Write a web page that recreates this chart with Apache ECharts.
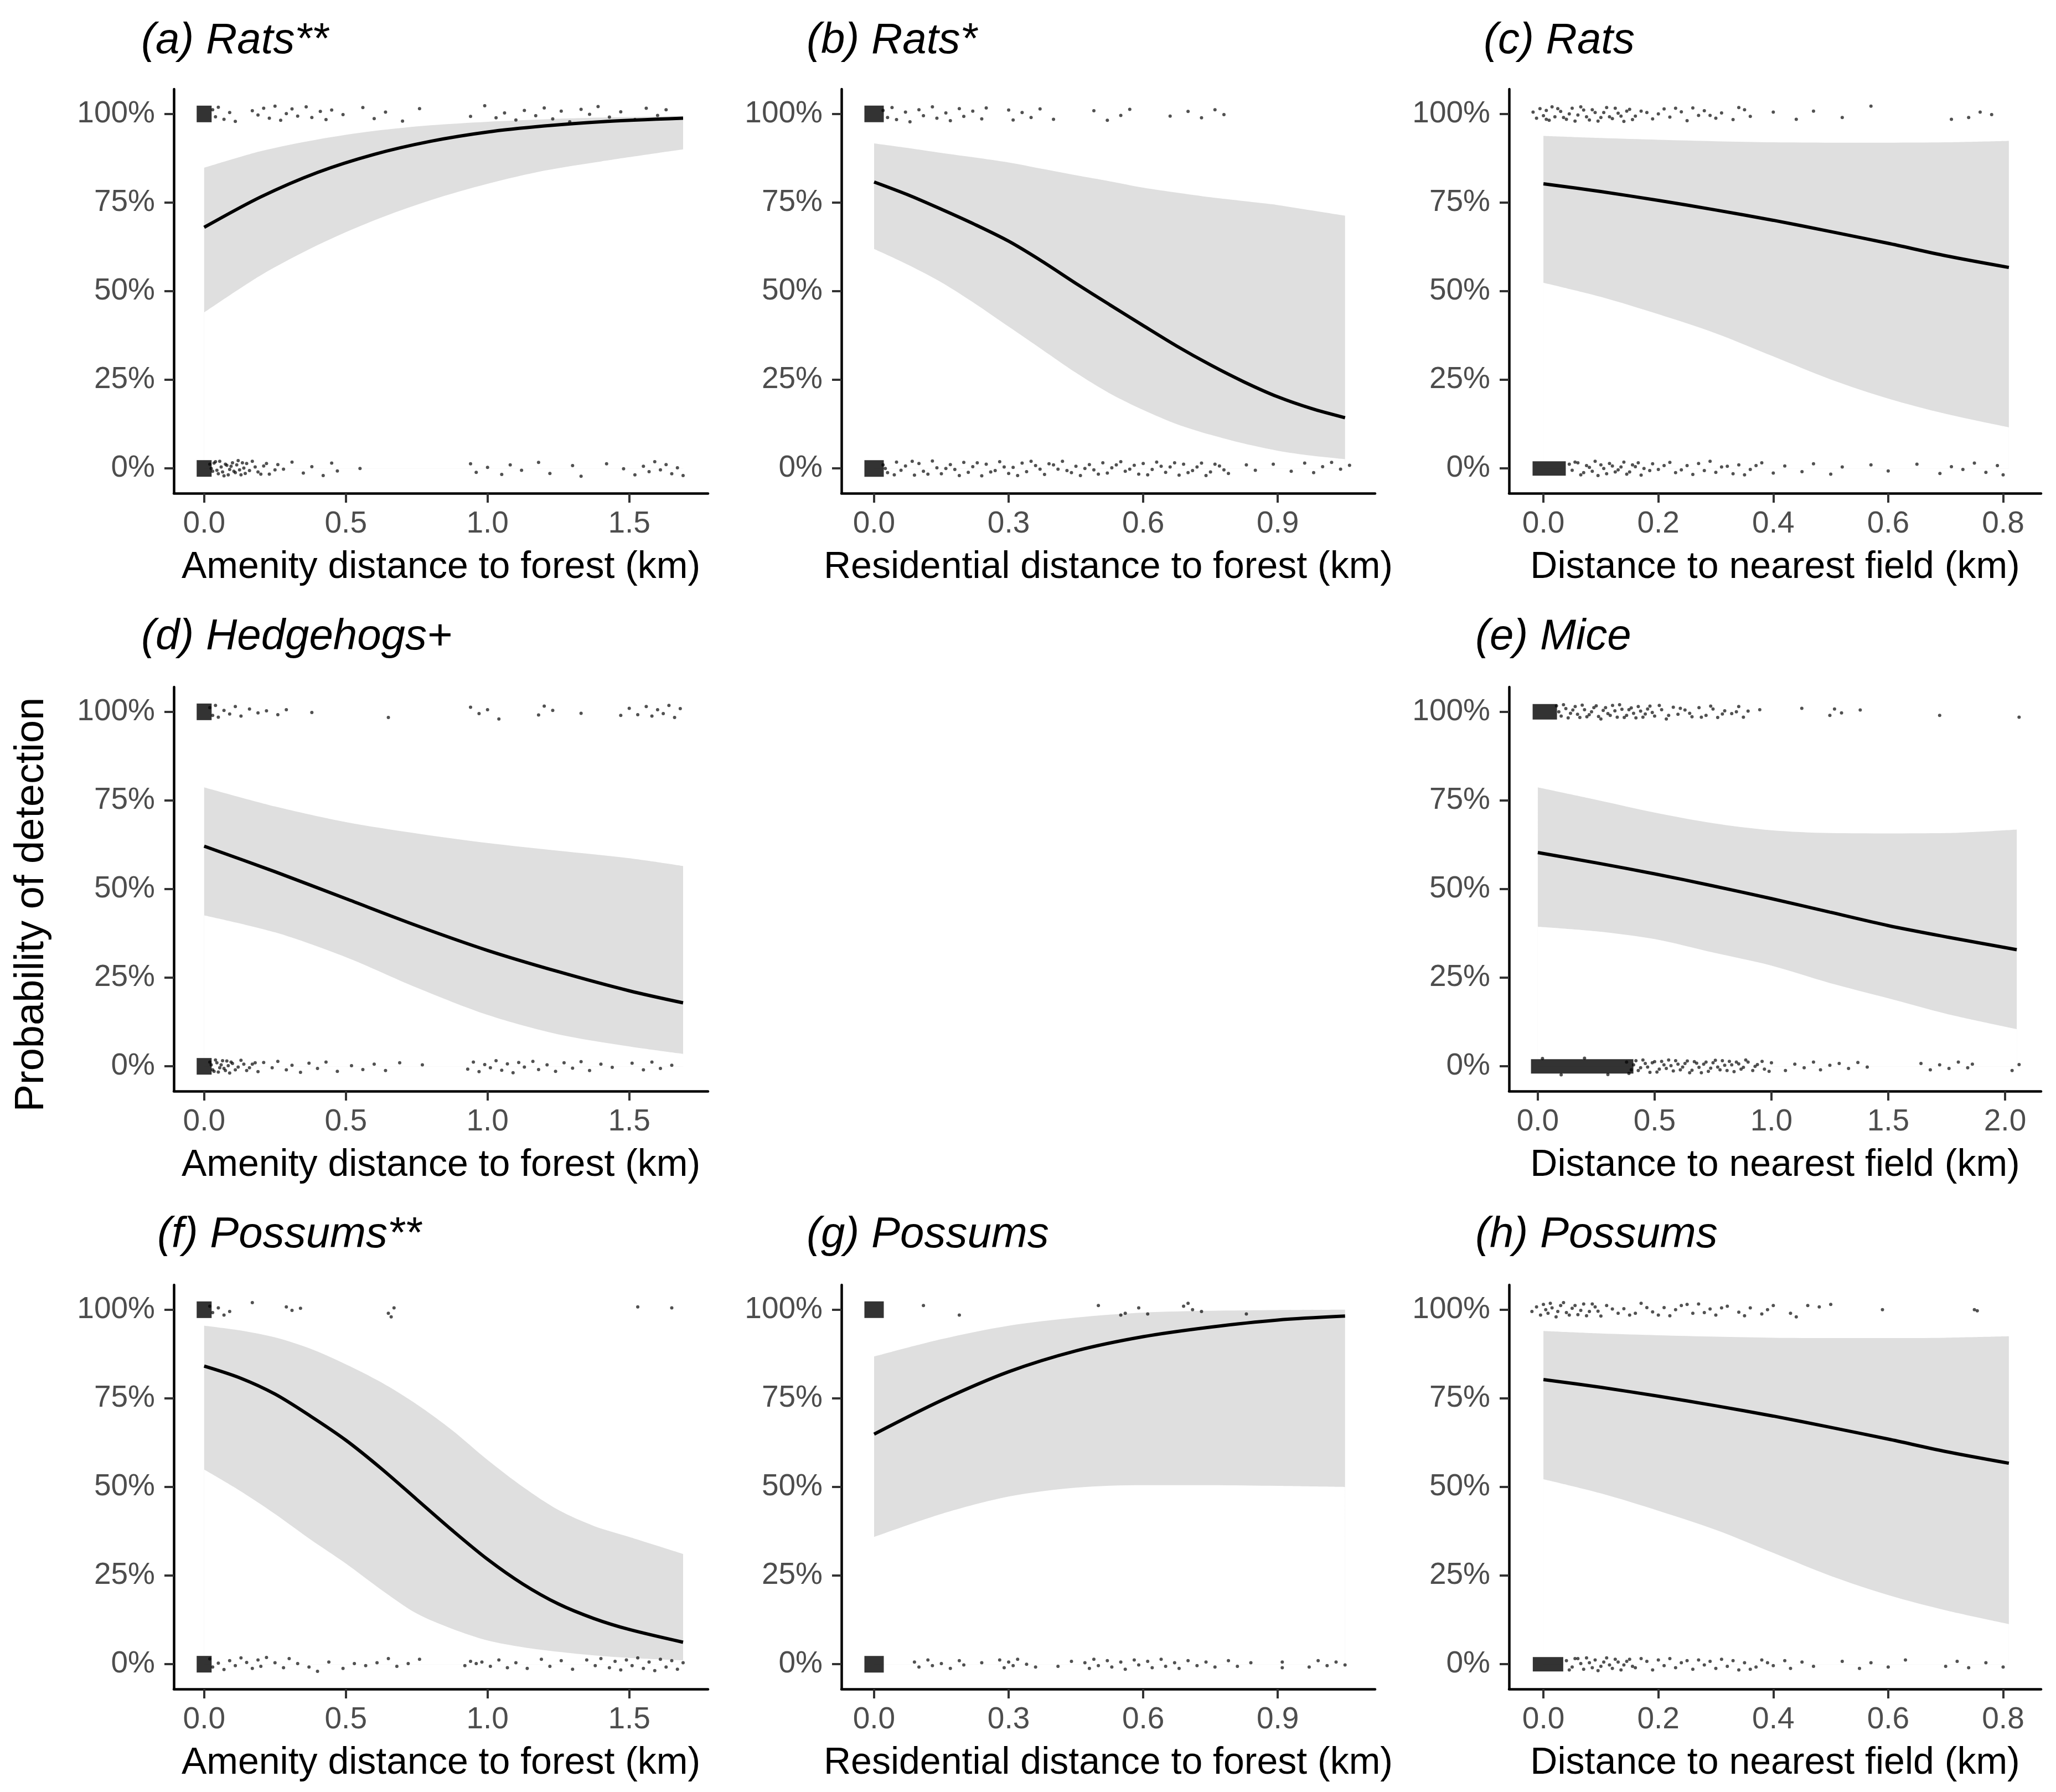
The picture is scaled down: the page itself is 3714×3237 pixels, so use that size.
<!DOCTYPE html>
<html><head><meta charset="utf-8">
<script src="https://cdn.jsdelivr.net/npm/echarts@6/dist/echarts.min.js"></script>
<style>html,body{margin:0;padding:0;background:#fff}#c{width:3714px;height:3237px}</style>
</head><body><div id="c"></div>
<script>
// ---------- tick labels / axis names ----------
const ticksAmenity = [0, 0.5, 1.0, 1.5];
const ticksResid = [0, 0.3, 0.6, 0.9];
const ticksField = [0, 0.2, 0.4, 0.6, 0.8];
const ticksFieldMice = [0, 0.5, 1.0, 1.5, 2.0];
const ticksProb = [0, 0.25, 0.5, 0.75, 1];
const nameAmenity = 'Amenity distance to forest (km)';
const nameResid = 'Residential distance to forest (km)';
const nameField = 'Distance to nearest field (km)';
const nameY = 'Probability of detection';
const titles = ['(a) Rats**','(b) Rats*','(c) Rats','(d) Hedgehogs+','(e) Mice','(f) Possums**','(g) Possums','(h) Possums'];

// ---------- fitted curves and 95% bands ----------
const aX = [0,0.2,0.4,0.6,0.8,1.0,1.2,1.4,1.69];
const aFit = [0.68,0.766,0.835,0.886,0.923,0.949,0.966,0.978,0.988];
const aLo = [0.44,0.545,0.63,0.70,0.757,0.803,0.84,0.866,0.90];
const aHi = [0.848,0.895,0.928,0.952,0.968,0.978,0.985,0.99,0.994];

const bX = [0,0.075,0.15,0.225,0.3,0.375,0.45,0.525,0.6,0.675,0.75,0.825,0.9,0.975,1.05];
const bFit = [0.808,0.772,0.731,0.688,0.641,0.584,0.522,0.462,0.403,0.345,0.292,0.244,0.202,0.169,0.143];
const bLo = [0.619,0.575,0.525,0.465,0.40,0.335,0.27,0.212,0.165,0.125,0.095,0.07,0.05,0.036,0.026];
const bHi = [0.917,0.904,0.89,0.877,0.863,0.845,0.827,0.81,0.792,0.778,0.765,0.754,0.743,0.728,0.713];

const cX = [0,0.1,0.2,0.3,0.4,0.5,0.6,0.7,0.81];
const cFit = [0.803,0.781,0.756,0.729,0.70,0.668,0.635,0.60,0.567];
const cLo = [0.524,0.484,0.435,0.381,0.316,0.251,0.197,0.154,0.116];
const cHi = [0.938,0.932,0.927,0.923,0.92,0.919,0.919,0.92,0.924];

const dX = [0,0.25,0.5,0.75,1.0,1.25,1.5,1.69];
const dFit = [0.621,0.549,0.473,0.397,0.327,0.267,0.213,0.179];
const dLo = [0.426,0.378,0.308,0.222,0.145,0.09,0.056,0.035];
const dHi = [0.787,0.733,0.689,0.657,0.63,0.608,0.587,0.565];

const eX = [0,0.25,0.5,0.75,1.0,1.25,1.5,1.75,2.05];
const eFit = [0.603,0.574,0.543,0.509,0.473,0.435,0.397,0.365,0.329];
const eLo = [0.394,0.381,0.359,0.321,0.284,0.235,0.192,0.148,0.105];
const eHi = [0.787,0.752,0.716,0.686,0.666,0.658,0.657,0.658,0.668];

const fX = [0,0.125,0.25,0.375,0.5,0.625,0.75,0.875,1.0,1.125,1.25,1.375,1.5,1.69];
const fFit = [0.841,0.808,0.762,0.70,0.632,0.552,0.465,0.378,0.296,0.226,0.17,0.129,0.098,0.062];
const fLo = [0.549,0.49,0.424,0.352,0.284,0.21,0.143,0.10,0.067,0.048,0.035,0.025,0.018,0.011];
const fHi = [0.955,0.942,0.922,0.89,0.846,0.795,0.733,0.66,0.576,0.50,0.435,0.39,0.359,0.311];

const gX = [0,0.15,0.3,0.45,0.6,0.75,0.9,1.05];
const gFit = [0.649,0.744,0.825,0.884,0.924,0.951,0.971,0.982];
const gLo = [0.359,0.424,0.473,0.498,0.505,0.505,0.503,0.50];
const gHi = [0.868,0.917,0.955,0.978,0.992,0.997,0.999,1.0];

const hX = [0,0.1,0.2,0.3,0.4,0.5,0.6,0.7,0.81];
const hFit = [0.803,0.781,0.756,0.729,0.70,0.668,0.635,0.60,0.567];
const hLo = [0.522,0.482,0.433,0.379,0.314,0.249,0.195,0.152,0.113];
const hHi = [0.94,0.933,0.928,0.924,0.921,0.92,0.92,0.921,0.925];

// ---------- jittered observations (x, detected 0/1 with jitter) ----------
const aTop = [[0.03,1.012],[0.04,0.992],[0.05,1.019],[0.07,0.985],[0.09,1.004],[0.11,0.979],[0.17,1.009],[0.19,0.997],[0.21,1.016],[0.23,0.988],[0.25,1.022],[0.27,0.982],[0.29,1.001],[0.31,1.014],[0.33,0.994],[0.36,1.02],[0.38,0.99],[0.41,1.007],[0.43,0.984],[0.45,1.011],[0.49,0.998],[0.56,1.018],[0.6,0.987],[0.64,1.005],[0.7,0.98],[0.76,1.015],[0.94,0.993],[0.99,1.023],[1.03,0.989],[1.06,1.003],[1.1,0.983],[1.13,1.01],[1.17,0.995],[1.2,1.017],[1.23,0.986],[1.26,1.008],[1.29,0.978],[1.33,1.013],[1.36,0.999],[1.39,1.021],[1.43,0.991],[1.47,1.006],[1.52,0.984],[1.56,1.016],[1.6,0.996],[1.63,1.012]];
const aBot = [[0.02,0.012],[0.03,-0.008],[0.04,0.019],[0.05,-0.015],[0.06,0.004],[0.07,-0.021],[0.08,0.009],[0.09,-0.003],[0.1,0.016],[0.11,-0.012],[0.12,0.022],[0.13,-0.018],[0.14,0.001],[0.15,0.014],[0.16,-0.006],[0.17,0.02],[0.19,-0.01],[0.21,0.007],[0.23,-0.016],[0.26,0.011],[0.28,-0.002],[0.31,0.018],[0.35,-0.013],[0.38,0.005],[0.42,-0.02],[0.45,0.015],[0.47,-0.007],[0.55,0.0],[0.94,0.013],[0.96,-0.011],[1.0,0.003],[1.05,-0.017],[1.08,0.01],[1.12,-0.005],[1.18,0.017],[1.22,-0.014],[1.3,0.008],[1.33,-0.022],[1.42,0.013],[1.48,-0.001],[1.52,-0.018],[1.55,0.006],[1.57,-0.009],[1.59,0.019],[1.61,-0.004],[1.63,0.011],[1.65,-0.015],[1.67,0.002],[1.69,-0.02],
  [0.025,0.0],[0.035,0.015],[0.045,-0.005],[0.055,0.02],[0.065,-0.01],[0.075,0.012],[0.085,-0.018],[0.095,0.006],[0.105,-0.008],[0.115,0.01],[0.125,-0.004],[0.135,0.016],[0.145,-0.014],[0.18,0.004],[0.2,-0.016],[0.22,0.014],[0.25,-0.004]];
const aBlk = [[0,1],[0,0]];

const bTop = [[0.02,1.01],[0.03,0.99],[0.04,1.018],[0.05,0.984],[0.07,1.005],[0.08,0.978],[0.1,1.012],[0.11,0.995],[0.13,1.02],[0.14,0.988],[0.16,1.003],[0.17,0.981],[0.19,1.015],[0.2,0.993],[0.22,1.008],[0.24,0.986],[0.25,1.017],[0.3,1.011],[0.31,0.983],[0.33,1.004],[0.35,0.99],[0.37,1.014],[0.4,0.985],[0.49,1.009],[0.52,0.982],[0.55,0.996],[0.57,1.013],[0.66,0.994],[0.7,1.007],[0.73,0.989],[0.76,1.012],[0.78,0.998]];
const bBot = [[0.02,0.01],[0.03,-0.012],[0.05,0.018],[0.06,-0.005],[0.07,0.007],[0.09,-0.019],[0.1,0.014],[0.11,-0.008],[0.13,0.021],[0.14,0.002],[0.15,-0.015],[0.17,0.011],[0.18,-0.003],[0.2,0.017],[0.21,-0.011],[0.22,0.005],[0.24,-0.021],[0.25,0.012],[0.27,-0.006],[0.28,0.019],[0.3,-0.014],[0.31,0.003],[0.33,0.015],[0.34,-0.009],[0.36,0.008],[0.38,-0.017],[0.39,0.013],[0.41,-0.002],[0.42,0.02],[0.44,-0.012],[0.45,0.006],[0.46,-0.02],[0.48,0.011],[0.49,-0.004],[0.51,0.016],[0.52,-0.013],[0.53,0.002],[0.55,0.019],[0.56,-0.008],[0.58,0.009],[0.59,-0.016],[0.6,0.014],[0.62,-0.003],[0.63,0.018],[0.65,-0.011],[0.66,0.004],[0.68,-0.019],[0.69,0.012],[0.71,-0.006],[0.73,0.015],[0.75,-0.01],[0.77,0.007],[0.79,-0.014],[0.83,0.01],[0.85,-0.005],[0.89,0.012],[0.93,-0.008],[0.96,0.015],[0.98,-0.012],[1.0,0.005],[1.02,0.017],[1.04,-0.002],[1.06,0.009],
  [0.025,0.0],[0.045,-0.018],[0.085,0.02],[0.12,-0.016],[0.16,0.0],[0.19,-0.02],[0.23,0.016],[0.26,-0.01],[0.29,0.004],[0.32,-0.02],[0.35,0.02],[0.37,-0.002],[0.4,0.01],[0.43,-0.006],[0.47,0.0],[0.5,-0.016],[0.54,0.01],[0.57,-0.002],[0.61,-0.018],[0.64,0.006],[0.67,0.016],[0.7,-0.012],[0.72,0.004],[0.74,-0.02],[0.76,0.012],[0.78,-0.004]];
const bBlk = [[0,1],[0,0]];

const cTop = [[-0.018,1.005],[-0.012,0.988],[-0.006,1.015],[0.0,0.995],[0.005,1.01],[0.01,0.982],[0.015,1.02],[0.02,0.992],[0.03,1.007],[0.04,0.985],[0.05,1.016],[0.06,0.997],[0.07,1.011],[0.08,0.983],[0.09,1.004],[0.1,0.99],[0.11,1.018],[0.12,0.987],[0.13,1.002],[0.14,0.979],[0.15,1.013],[0.16,0.994],[0.17,1.008],[0.19,0.986],[0.21,1.014],[0.22,0.991],[0.24,1.006],[0.25,0.981],[0.26,1.017],[0.27,0.996],[0.28,1.009],[0.3,0.988],[0.31,1.003],[0.33,0.984],[0.35,1.012],[0.36,0.993],[0.4,1.005],[0.44,0.985],[0.47,1.008],[0.52,0.99],[0.57,1.022],[0.71,0.985],[0.74,0.99],[0.76,1.005],[0.78,0.998],
  [0.005,0.985],[0.025,1.015],[0.035,0.99],[0.045,1.0],[0.055,0.98],[0.065,1.02],[0.075,0.992],[0.085,1.012],[0.095,0.98],[0.105,1.004],[0.115,0.992],[0.125,1.016],[0.135,0.994],[0.145,1.008],[0.155,0.984],[0.18,1.004],[0.2,1.0],[0.23,1.016],[0.29,0.996],[0.34,1.018]];
const cBot = [[0.045,0.012],[0.05,-0.005],[0.06,0.016],[0.07,-0.012],[0.08,0.003],[0.1,0.01],[0.11,-0.015],[0.12,0.007],[0.13,-0.004],[0.14,0.018],[0.15,-0.01],[0.16,0.005],[0.17,-0.019],[0.19,0.013],[0.2,-0.003],[0.22,0.017],[0.23,-0.012],[0.25,0.008],[0.26,-0.017],[0.27,0.014],[0.28,-0.006],[0.29,0.02],[0.3,-0.011],[0.31,0.004],[0.33,-0.015],[0.34,0.01],[0.36,-0.003],[0.38,0.016],[0.4,-0.013],[0.42,0.007],[0.45,-0.009],[0.47,0.013],[0.5,-0.016],[0.52,0.004],[0.57,0.01],[0.6,-0.007],[0.65,0.012],[0.69,-0.014],[0.71,0.005],[0.73,-0.003],[0.75,0.015],[0.77,-0.011],[0.79,0.008],[0.8,-0.018],
  [0.055,0.018],[0.065,-0.018],[0.075,0.008],[0.085,-0.008],[0.09,0.02],[0.095,-0.02],[0.105,0.0],[0.115,0.014],[0.125,-0.01],[0.135,0.004],[0.145,-0.016],[0.155,0.01],[0.165,0.016],[0.175,0.0],[0.185,-0.006],[0.21,0.008],[0.24,-0.004],[0.32,0.006],[0.35,-0.018],[0.37,0.008]];
const cBlk = [[0.01,0]];

const dTop = [[0.02,1.012],[0.03,0.99],[0.04,1.018],[0.05,0.985],[0.07,1.004],[0.09,0.994],[0.11,1.015],[0.13,0.988],[0.16,1.008],[0.19,0.997],[0.22,1.003],[0.26,0.992],[0.29,1.006],[0.38,0.998],[0.65,0.984],[0.94,1.013],[0.97,0.995],[1.0,1.006],[1.04,0.98],[1.18,0.991],[1.2,1.016],[1.23,1.004],[1.33,0.996],[1.47,0.99],[1.5,1.01],[1.53,0.992],[1.56,1.015],[1.58,0.988],[1.6,1.006],[1.62,0.995],[1.64,1.018],[1.66,0.984],[1.68,1.009]];
const dBot = [[0.02,0.012],[0.03,-0.01],[0.04,0.018],[0.05,-0.016],[0.06,0.004],[0.07,-0.006],[0.08,0.015],[0.09,-0.019],[0.1,0.008],[0.12,-0.002],[0.13,0.017],[0.15,-0.012],[0.17,0.006],[0.19,-0.015],[0.21,0.011],[0.24,-0.004],[0.26,0.014],[0.29,-0.01],[0.31,0.003],[0.34,-0.017],[0.37,0.009],[0.4,-0.006],[0.43,0.012],[0.47,-0.014],[0.52,0.002],[0.56,-0.009],[0.6,0.006],[0.64,-0.012],[0.69,0.01],[0.77,0.004],[0.93,-0.008],[0.95,0.012],[0.97,-0.015],[0.99,0.005],[1.01,-0.004],[1.03,0.016],[1.05,-0.011],[1.07,0.007],[1.09,-0.018],[1.11,0.011],[1.13,-0.002],[1.16,0.014],[1.18,-0.009],[1.21,0.004],[1.24,-0.014],[1.27,0.01],[1.3,-0.005],[1.33,0.013],[1.36,-0.012],[1.4,0.006],[1.44,-0.003],[1.51,0.009],[1.55,-0.01],[1.58,0.012],[1.61,-0.006],[1.65,0.003],
  [0.025,0.004],[0.035,-0.014],[0.045,0.01],[0.055,-0.004],[0.065,0.016],[0.075,-0.012],[0.085,0.002],[0.095,0.012],[0.11,-0.01],[0.14,0.006],[0.16,-0.004],[0.18,0.01]];
const dBlk = [[0,1],[0,0]];

const eTop = [[0.08,1.017],[0.1,0.988],[0.12,1.009],[0.14,0.996],[0.16,1.015],[0.18,0.984],[0.2,1.006],[0.22,0.992],[0.24,1.012],[0.26,0.987],[0.28,1.004],[0.3,0.995],[0.32,1.018],[0.34,0.985],[0.36,1.007],[0.38,0.99],[0.4,1.011],[0.42,0.983],[0.44,1.002],[0.46,0.994],[0.48,1.016],[0.5,0.988],[0.53,1.006],[0.55,0.98],[0.58,1.013],[0.6,0.993],[0.63,1.005],[0.66,0.986],[0.69,1.012],[0.72,0.99],[0.75,1.008],[0.77,0.984],[0.8,1.003],[0.83,0.995],[0.86,1.015],[0.9,1.002],[0.95,1.006],[1.13,1.01],[1.25,0.99],[1.27,1.008],[1.3,0.997],[1.38,1.005],[1.72,0.99],[2.06,0.985],
  [0.09,1.0],[0.11,1.02],[0.13,0.983],[0.15,1.005],[0.17,0.993],[0.19,1.019],[0.21,0.986],[0.23,1.0],[0.25,1.017],[0.27,0.98],[0.29,1.012],[0.31,0.99],[0.33,1.003],[0.35,1.02],[0.37,0.984],[0.39,1.006],[0.41,0.996],[0.43,1.015],[0.45,0.985],[0.47,1.008],[0.49,0.998],[0.52,1.018],[0.56,0.99],[0.61,1.01],[0.65,0.996],[0.7,0.985],[0.74,1.016],[0.79,0.994],[0.85,1.0],[0.88,0.985]];
const eBot = [[0.02,0.022],[0.1,-0.024],[0.2,0.023],[0.3,-0.023],[0.38,0.012],[0.4,-0.01],[0.42,0.016],[0.44,-0.004],[0.46,0.008],[0.48,-0.017],[0.5,0.013],[0.52,-0.008],[0.54,0.004],[0.56,0.018],[0.58,-0.013],[0.6,0.006],[0.62,-0.002],[0.64,0.015],[0.66,-0.011],[0.68,0.009],[0.7,-0.018],[0.72,0.012],[0.74,-0.005],[0.76,0.017],[0.78,-0.01],[0.8,0.003],[0.82,0.014],[0.84,-0.015],[0.86,0.007],[0.88,-0.003],[0.9,0.012],[0.92,-0.012],[0.94,0.005],[0.97,-0.008],[1.0,0.01],[1.06,-0.012],[1.1,0.006],[1.14,-0.004],[1.18,0.012],[1.21,-0.01],[1.25,0.003],[1.29,0.008],[1.33,-0.006],[1.37,0.011],[1.41,-0.002],[1.64,0.008],[1.68,-0.01],[1.72,0.004],[1.76,-0.006],[1.8,0.012],[1.84,-0.004],[1.86,0.006],[2.03,-0.012],[2.06,0.005],
  [0.39,-0.02],[0.41,0.004],[0.43,-0.012],[0.45,0.018],[0.47,-0.002],[0.49,0.01],[0.51,-0.016],[0.53,0.014],[0.55,-0.006],[0.57,0.002],[0.59,0.016],[0.61,-0.01],[0.63,0.008],[0.65,-0.018],[0.67,0.013],[0.69,-0.003],[0.71,0.006],[0.73,-0.014],[0.75,0.01],[0.77,-0.002],[0.79,0.016],[0.81,-0.012],[0.83,0.004],[0.85,0.012],[0.87,-0.008],[0.89,0.018],[0.93,0.0],[0.96,0.014],[0.99,-0.014]];
const eBlk = [[0.03,1],[0.19,0]];

const fTop = [[0.02,1.01],[0.03,0.992],[0.05,1.005],[0.07,0.985],[0.09,0.995],[0.17,1.02],[0.29,1.008],[0.31,0.998],[0.34,1.004],[0.65,0.99],[0.66,0.98],[0.67,1.005],[1.53,1.008],[1.65,1.005]];
const fBot = [[0.02,0.015],[0.03,-0.008],[0.05,0.003],[0.07,-0.015],[0.09,0.01],[0.11,-0.004],[0.13,0.018],[0.15,0.005],[0.17,-0.012],[0.19,0.012],[0.2,-0.006],[0.22,0.019],[0.25,0.004],[0.28,-0.01],[0.3,0.016],[0.33,0.002],[0.37,-0.008],[0.4,-0.02],[0.44,0.006],[0.49,-0.012],[0.53,0.002],[0.57,-0.004],[0.61,0.004],[0.65,0.016],[0.68,-0.006],[0.72,0.002],[0.76,0.014],[0.92,-0.004],[0.94,0.008],[0.96,0.002],[0.98,0.006],[1.01,-0.006],[1.04,0.012],[1.07,-0.01],[1.1,0.004],[1.14,-0.012],[1.19,0.014],[1.22,-0.006],[1.26,0.01],[1.3,-0.014],[1.35,0.012],[1.38,-0.004],[1.4,0.016],[1.43,-0.01],[1.45,0.008],[1.47,-0.016],[1.49,0.012],[1.51,-0.004],[1.53,0.018],[1.55,-0.012],[1.57,0.006],[1.59,-0.018],[1.61,0.014],[1.63,-0.008],[1.65,0.01],[1.67,-0.014],[1.69,0.004]];
const fBlk = [[0,1],[0,0]];

const gTop = [[0.11,1.012],[0.19,0.985],[0.5,1.012],[0.55,0.985],[0.56,0.99],[0.59,1.005],[0.61,0.988],[0.69,1.01],[0.7,1.018],[0.71,1.0],[0.73,0.995],[0.83,0.988]];
const gBot = [[0.09,0.006],[0.1,-0.008],[0.12,0.012],[0.13,-0.004],[0.15,0.002],[0.17,-0.012],[0.19,0.01],[0.2,-0.002],[0.24,0.004],[0.28,0.012],[0.29,-0.01],[0.3,0.006],[0.31,-0.004],[0.32,0.014],[0.34,0.0],[0.36,-0.008],[0.41,-0.006],[0.44,0.008],[0.47,0.004],[0.48,-0.012],[0.49,0.014],[0.5,-0.004],[0.52,0.01],[0.53,-0.008],[0.55,0.006],[0.56,-0.014],[0.58,0.012],[0.59,-0.002],[0.61,0.008],[0.62,-0.01],[0.64,0.014],[0.65,-0.006],[0.67,0.004],[0.68,-0.012],[0.7,0.01],[0.72,-0.004],[0.74,0.006],[0.76,-0.008],[0.79,0.01],[0.81,-0.006],[0.84,0.004],[0.91,0.006],[0.91,-0.01],[0.97,-0.008],[0.99,0.01],[1.01,-0.004],[1.03,0.006],[1.05,-0.002]];
const gBlk = [[0,1],[0,0]];

const hTop = [[-0.02,0.995],[-0.012,1.008],[-0.005,0.985],[0.0,1.015],[0.008,0.99],[0.015,1.005],[0.022,0.98],[0.03,1.012],[0.04,0.992],[0.05,1.004],[0.06,0.986],[0.07,1.016],[0.08,0.995],[0.09,1.008],[0.1,0.982],[0.11,1.012],[0.13,0.99],[0.14,1.003],[0.15,0.985],[0.17,1.018],[0.19,0.994],[0.21,1.006],[0.22,0.983],[0.24,1.012],[0.26,0.99],[0.27,1.016],[0.29,1.002],[0.3,0.985],[0.32,1.01],[0.34,0.993],[0.36,1.005],[0.38,0.988],[0.4,1.012],[0.43,0.99],[0.44,0.98],[0.46,1.012],[0.48,1.008],[0.5,1.015],[0.59,1.0],[0.75,1.0],[0.755,0.997],
  [0.004,1.0],[0.012,1.018],[0.025,0.995],[0.035,1.02],[0.045,0.985],[0.055,1.012],[0.065,0.998],[0.075,0.983],[0.085,1.016],[0.095,0.996],[0.12,1.002],[0.16,0.99],[0.18,1.006],[0.2,0.985],[0.23,1.0],[0.25,1.015],[0.28,0.992],[0.31,1.005],[0.35,0.983],[0.39,1.0]];
const hBot = [[0.04,0.01],[0.05,-0.008],[0.06,0.016],[0.07,-0.014],[0.08,0.004],[0.09,0.012],[0.1,-0.006],[0.11,0.018],[0.12,-0.012],[0.13,0.006],[0.14,-0.002],[0.15,0.014],[0.16,-0.01],[0.18,0.008],[0.19,-0.016],[0.2,0.012],[0.21,-0.004],[0.22,0.016],[0.23,-0.01],[0.24,0.004],[0.26,-0.014],[0.27,0.012],[0.28,-0.002],[0.29,0.008],[0.3,-0.012],[0.31,0.014],[0.32,-0.006],[0.33,0.01],[0.34,-0.016],[0.35,0.004],[0.37,-0.008],[0.38,0.012],[0.4,-0.004],[0.42,0.01],[0.43,-0.012],[0.45,0.006],[0.47,-0.006],[0.52,0.008],[0.55,-0.012],[0.57,0.004],[0.6,-0.008],[0.63,0.012],[0.7,-0.006],[0.72,0.008],[0.74,-0.01],[0.77,0.004],[0.8,-0.008],
  [0.045,-0.016],[0.055,0.016],[0.065,0.002],[0.075,0.018],[0.085,-0.01],[0.095,-0.018],[0.105,0.006],[0.115,-0.002],[0.125,0.014],[0.135,-0.016],[0.145,0.008],[0.155,-0.006],[0.17,0.016],[0.25,0.01],[0.36,-0.014],[0.39,0.004]];
const hBlk = [[0.008,0]];

// ---------- layout / style ----------
const FONT = '"Liberation Sans", Arial, Helvetica, sans-serif';
const colLeft = [314, 1520, 2726], colWidth = [965, 964, 961];
const rowTop = [161, 1241, 2321], plotH = 730;
const titleTop = [30, 1107, 2187];
const SMOOTH = 0.3;
const panels = [
  {t:0, row:0, col:0, tl:250,  xName:nameAmenity, ticks:ticksAmenity, xr:[-0.107,1.778], X:aX, F:aFit, L:aLo, H:aHi, pts:aTop.concat(aBot), blk:aBlk, bs:[[27,30],[27,30]]},
  {t:1, row:0, col:1, tl:1452, xName:nameResid,   ticks:ticksResid,   xr:[-0.0728,1.117], X:bX, F:bFit, L:bLo, H:bHi, pts:bTop.concat(bBot), blk:bBlk, bs:[[35,30],[35,30]]},
  {t:2, row:0, col:2, tl:2675, xName:nameField,   ticks:ticksField,   xr:[-0.0598,0.866], X:cX, F:cFit, L:cLo, H:cHi, pts:cTop.concat(cBot), blk:cBlk, bs:[[60,26]]},
  {t:3, row:1, col:0, tl:250,  xName:nameAmenity, ticks:ticksAmenity, xr:[-0.107,1.778], X:dX, F:dFit, L:dLo, H:dHi, pts:dTop.concat(dBot), blk:dBlk, bs:[[27,30],[27,30]], yName:true},
  {t:4, row:1, col:2, tl:2660, xName:nameField,   ticks:ticksFieldMice, xr:[-0.123,2.154], X:eX, F:eFit, L:eLo, H:eHi, pts:eTop.concat(eBot), blk:eBlk, bs:[[44,28],[185,26]]},
  {t:5, row:2, col:0, tl:279,  xName:nameAmenity, ticks:ticksAmenity, xr:[-0.107,1.778], X:fX, F:fFit, L:fLo, H:fHi, pts:fTop.concat(fBot), blk:fBlk, bs:[[27,30],[27,30]]},
  {t:6, row:2, col:1, tl:1452, xName:nameResid,   ticks:ticksResid,   xr:[-0.0728,1.117], X:gX, F:gFit, L:gLo, H:gHi, pts:gTop.concat(gBot), blk:gBlk, bs:[[35,30],[35,30]]},
  {t:7, row:2, col:2, tl:2660, xName:nameField,   ticks:ticksField,   xr:[-0.0598,0.866], X:hX, F:hFit, L:hLo, H:hHi, pts:hTop.concat(hBot), blk:hBlk, bs:[[55,26]]}
];

const grid = [], xAxis = [], yAxis = [], series = [], title = [];
panels.forEach((p, i) => {
  grid.push({left: colLeft[p.col], top: rowTop[p.row], width: colWidth[p.col], height: plotH, containLabel: false});
  title.push({text: titles[p.t], left: p.tl, top: titleTop[p.row],
    textStyle: {fontFamily: FONT, fontSize: 78, fontStyle: 'italic', fontWeight: 'normal', color: '#000'}});
  xAxis.push({type: 'value', gridIndex: i, min: p.xr[0], max: p.xr[1], z: 10,
    name: p.xName, nameLocation: 'middle', nameGap: 100,
    nameTextStyle: {fontFamily: FONT, fontSize: 68, color: '#000'},
    axisLine: {onZero: false, lineStyle: {color: '#000', width: 4.5}},
    axisTick: {show: true, customValues: p.ticks, length: 17, lineStyle: {color: '#333', width: 4}},
    axisLabel: {customValues: p.ticks, margin: 28, fontFamily: FONT, fontSize: 55, color: '#4d4d4d',
      formatter: v => v.toFixed(1)},
    splitLine: {show: false}});
  yAxis.push({type: 'value', gridIndex: i, min: -0.07, max: 1.07, z: 10,
    name: p.yName ? nameY : '', nameLocation: 'middle', nameGap: 219, nameRotate: 90,
    nameTextStyle: {fontFamily: FONT, fontSize: 74, color: '#000', padding: [0, 56, 0, 0]},
    axisLine: {onZero: false, lineStyle: {color: '#000', width: 4.5}},
    axisTick: {show: true, customValues: ticksProb, length: 17, lineStyle: {color: '#333', width: 4}},
    axisLabel: {customValues: ticksProb, margin: 34, fontFamily: FONT, fontSize: 55, color: '#4d4d4d',
      formatter: v => Math.round(v * 100) + '%'},
    splitLine: {show: false}});
  // band: grey area under the upper bound, then white area under the lower bound on top of it
  series.push({type: 'line', xAxisIndex: i, yAxisIndex: i, smooth: SMOOTH, symbol: 'none', silent: true,
    lineStyle: {opacity: 0}, areaStyle: {color: '#dfdfdf', opacity: 1, origin: 'auto'},
    data: p.X.map((x, k) => [x, p.H[k]]), z: 1});
  series.push({type: 'line', xAxisIndex: i, yAxisIndex: i, smooth: SMOOTH, symbol: 'none', silent: true,
    lineStyle: {opacity: 0}, areaStyle: {color: '#ffffff', opacity: 1, origin: 'auto'},
    data: p.X.map((x, k) => [x, p.L[k]]), z: 2});
  series.push({type: 'line', xAxisIndex: i, yAxisIndex: i, smooth: SMOOTH, symbol: 'none',
    lineStyle: {color: '#000', width: 6}, data: p.X.map((x, k) => [x, p.F[k]]), z: 3});
  series.push({type: 'scatter', xAxisIndex: i, yAxisIndex: i, symbol: 'circle', symbolSize: 6,
    itemStyle: {color: 'rgba(0,0,0,0.85)'}, data: p.pts, z: 4});
  series.push({type: 'scatter', xAxisIndex: i, yAxisIndex: i, symbol: 'rect',
    itemStyle: {color: '#000'}, z: 4,
    data: p.blk.map((v, k) => ({value: v, symbolSize: p.bs[k]}))});
});

const chart = echarts.init(document.getElementById('c'), null, {renderer: 'canvas', width: 3714, height: 3237});
chart.setOption({animation: false, backgroundColor: '#fff', title, grid, xAxis, yAxis, series});
</script>
</body></html>
